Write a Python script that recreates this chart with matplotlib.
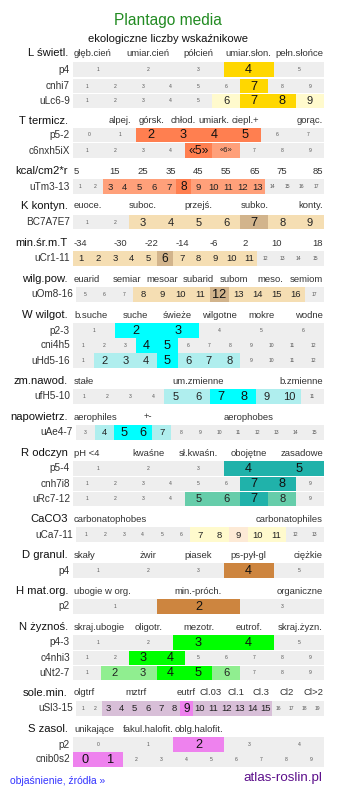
import matplotlib
matplotlib.use("Agg")
import matplotlib.pyplot as plt

plt.rcParams['font.family'] = ['Liberation Sans', 'DejaVu Sans']

# ---------------- data ----------------
title = "Plantago media"
subtitle = "ekologiczne liczby wskaźnikowe"
footer_left = "objaśnienie, źródła »"
footer_right = "atlas-roslin.pl"

# level codes: 0 = none, 1 = light, 2 = strong, 3 = special
L_title = "L świetl."
L_heads = ["głęb.cień", "umiar.cień", "półcień", "umiar.słon.", "pełn.słońce"]
L_p4 = ["1", "2", "3", "4", "5"]
L_p4_lvl = [0, 0, 0, 2, 0]
L_cnhi7 = ["1", "2", "3", "4", "5", "6", "7", "8", "9"]
L_cnhi7_lvl = [0, 0, 0, 0, 0, 0, 2, 0, 0]
L_uLc = ["1", "2", "3", "4", "5", "6", "7", "8", "9"]
L_uLc_lvl = [0, 0, 0, 0, 0, 1, 2, 2, 1]

T_title = "T termicz."
T_heads = ["", "alpej.", "górsk.", "chłod.", "umiark.", "ciepl.+", "", "gorąc."]
T_p52 = ["0", "1", "2", "3", "4", "5", "6", "7"]
T_p52_lvl = [0, 0, 2, 2, 2, 2, 0, 0]
T_c6 = ["1", "2", "3", "4", "«5»", "«6»", "7", "8", "9"]
T_c6_lvl = [0, 0, 0, 0, 2, 1, 0, 0, 0]

KC_title = "kcal/cm2*r"
KC_heads = ["5", "15", "25", "35", "45", "55", "65", "75", "85"]
KC_uTm = [str(i) for i in range(1, 18)]
KC_uTm_lvl = [0, 0, 1, 1, 1, 1, 1, 2, 1, 1, 1, 1, 1, 0, 0, 0, 0]

K_title = "K kontyn."
K_heads = ["euoce.", "", "suboc.", "", "przejś.", "", "subko.", "", "konty."]
K_bc = ["1", "2", "3", "4", "5", "6", "7", "8", "9"]
K_bc_lvl = [0, 0, 1, 1, 1, 1, 2, 1, 1]

MT_title = "min.śr.m.T"
MT_heads = ["-34", "-30", "-22", "-14", "-6", "2", "10", "18"]
MT_uCr = [str(i) for i in range(1, 16)]
MT_uCr_lvl = [1, 1, 1, 1, 1, 2, 1, 1, 1, 1, 1, 0, 0, 0, 0]

WP_title = "wilg.pow."
WP_heads = ["euarid", "semiar", "mesoar", "subarid", "subom", "meso.", "semiom"]
WP_uOm = [str(i) for i in range(5, 18)]
WP_uOm_lvl = [0, 0, 0, 1, 1, 1, 1, 2, 1, 1, 1, 1, 0]

W_title = "W wilgot."
W_heads = ["b.suche", "suche", "świeże", "wilgotne", "mokre", "wodne"]
W_p23 = ["1", "2", "3", "4", "5", "6"]
W_p23_lvl = [0, 2, 2, 0, 0, 0]
W_cni = [str(i) for i in range(1, 13)]
W_cni_lvl = [0, 0, 0, 2, 2, 0, 0, 0, 0, 0, 0, 0]
W_uHd = [str(i) for i in range(1, 13)]
W_uHd_lvl = [0, 1, 1, 1, 2, 1, 1, 1, 0, 0, 0, 0]

ZN_title = "zm.nawod."
ZN_heads = ["stałe", "um.zmienne", "b.zmienne"]
ZN_ufH = [str(i) for i in range(1, 12)]
ZN_ufH_lvl = [0, 0, 0, 0, 1, 1, 2, 2, 1, 1, 0]

NP_title = "napowietrz."
NP_heads = ["aerophiles", "+-", "", "aerophobes", ""]
NP_uAe = [str(i) for i in range(3, 16)]
NP_uAe_lvl = [0, 1, 2, 2, 1, 0, 0, 0, 0, 0, 0, 0, 0]

R_title = "R odczyn"
R_heads = ["pH <4", "kwaśne", "sł.kwaśn.", "obojętne", "zasadowe"]
R_p54 = ["1", "2", "3", "4", "5"]
R_p54_lvl = [0, 0, 0, 2, 2]
R_cnh = ["1", "2", "3", "4", "5", "6", "7", "8", "9"]
R_cnh_lvl = [0, 0, 0, 0, 0, 0, 2, 2, 0]
R_uRc = ["1", "2", "3", "4", "5", "6", "7", "8", "9"]
R_uRc_lvl = [0, 0, 0, 0, 1, 1, 2, 1, 0]

CA_title = "CaCO3"
CA_heads = ["carbonatophobes", "carbonatophiles"]
CA_uCa = [str(i) for i in range(1, 14)]
CA_uCa_lvl = [0, 0, 0, 0, 0, 0, 1, 1, 3, 1, 1, 0, 0]

D_title = "D granul."
D_heads = ["skały", "żwir", "piasek", "ps-pył-gl", "ciężkie"]
D_p4 = ["1", "2", "3", "4", "5"]
D_p4_lvl = [0, 0, 0, 2, 0]

H_title = "H mat.org."
H_heads = ["ubogie w org.", "min.-próch.", "organiczne"]
H_p2 = ["1", "2", "3"]
H_p2_lvl = [0, 2, 0]

N_title = "N żyznoś."
N_heads = ["skraj.ubogie", "oligotr.", "mezotr.", "eutrof.", "skraj.żyzn."]
N_p43 = ["1", "2", "3", "4", "5"]
N_p43_lvl = [0, 0, 2, 2, 0]
N_c4 = ["1", "2", "3", "4", "5", "6", "7", "8", "9"]
N_c4_lvl = [0, 0, 2, 2, 0, 0, 0, 0, 0]
N_uNt = ["1", "2", "3", "4", "5", "6", "7", "8", "9"]
N_uNt_lvl = [0, 1, 1, 2, 2, 1, 0, 0, 0]

SM_title = "sole.min."
SM_heads = ["olgtrf", "", "mztrf", "", "eutrf", "Cl.03", "Cl.1", "Cl.3", "Cl2", "Cl>2"]
SM_uSl = [str(i) for i in range(1, 20)]
SM_uSl_lvl = [0, 0, 1, 1, 1, 1, 1, 1, 2, 1, 1, 1, 1, 1, 1, 0, 0, 0, 0]

S_title = "S zasol."
S_heads = ["unikające", "fakul.halofit.", "oblg.halofit.", "", ""]
S_p2 = ["0", "1", "2", "3", "4"]
S_p2_lvl = [0, 0, 2, 0, 0]
S_cnib = [str(i) for i in range(0, 10)]
S_cnib_lvl = [2, 2, 0, 0, 0, 0, 0, 0, 0, 0]

# ---------------- styles ----------------
GREY = "#eeeeee"
PAL = {
    "L": ("#fffacd", "#ffd700"),
    "T": ("#ffa07a", "#ff7f50"),
    "K": ("#f5deb3", "#d2b48c"),
    "W": ("#afeeee", "#00ffff"),
    "R": ("#66cdaa", "#20b2aa"),
    "C": ("#fffacd", "#ffd700"),
    "D": ("#f5deb3", "#cd853f"),
    "N": ("#90ee90", "#00ff00"),
    "S": ("#d8bfd8", "#ee82ee"),
}
SPECIAL = "#fdead6"

# sections: (title, heads, header y, palette, [(row label, cells, levels, y-center, x0)])
X1 = 324.0
sections = [
    (L_title, L_heads, 53.5, "L", [("p4", L_p4, L_p4_lvl, 69.6, 73),
                                   ("cnhi7", L_cnhi7, L_cnhi7_lvl, 86.0, 73),
                                   ("uLc6-9", L_uLc, L_uLc_lvl, 101.0, 73)]),
    (T_title, T_heads, 120.5, "T", [("p5-2", T_p52, T_p52_lvl, 135.0, 73),
                                    ("c6nxh5iX", T_c6, T_c6_lvl, 150.5, 73)]),
    (KC_title, KC_heads, 171.0, "T", [("uTm3-13", KC_uTm, KC_uTm_lvl, 186.5, 73)]),
    (K_title, K_heads, 206.0, "K", [("BC7A7E7", K_bc, K_bc_lvl, 222.2, 73)]),
    (MT_title, MT_heads, 243.0, "K", [("uCr1-11", MT_uCr, MT_uCr_lvl, 258.4, 73)]),
    (WP_title, WP_heads, 279.5, "K", [("uOm8-16", WP_uOm, WP_uOm_lvl, 294.2, 76)]),
    (W_title, W_heads, 315.5, "W", [("p2-3", W_p23, W_p23_lvl, 330.5, 73),
                                    ("cni4h5", W_cni, W_cni_lvl, 345.5, 73),
                                    ("uHd5-16", W_uHd, W_uHd_lvl, 360.5, 73)]),
    (ZN_title, ZN_heads, 381.0, "W", [("ufH5-10", ZN_ufH, ZN_ufH_lvl, 396.3, 73)]),
    (NP_title, NP_heads, 417.0, "W", [("uAe4-7", NP_uAe, NP_uAe_lvl, 432.2, 76)]),
    (R_title, R_heads, 453.5, "R", [("p5-4", R_p54, R_p54_lvl, 468.3, 73),
                                    ("cnh7i8", R_cnh, R_cnh_lvl, 483.8, 73),
                                    ("uRc7-12", R_uRc, R_uRc_lvl, 498.8, 73)]),
    (CA_title, CA_heads, 519.5, "C", [("uCa7-11", CA_uCa, CA_uCa_lvl, 534.5, 76)]),
    (D_title, D_heads, 555.5, "D", [("p4", D_p4, D_p4_lvl, 570.5, 73)]),
    (H_title, H_heads, 591.0, "D", [("p2", H_p2, H_p2_lvl, 606.3, 73)]),
    (N_title, N_heads, 627.0, "N", [("p4-3", N_p43, N_p43_lvl, 642.2, 73),
                                    ("c4nhi3", N_c4, N_c4_lvl, 657.8, 73),
                                    ("uNt2-7", N_uNt, N_uNt_lvl, 672.8, 73)]),
    (SM_title, SM_heads, 692.5, "S", [("uSl3-15", SM_uSl, SM_uSl_lvl, 708.3, 76)]),
    (S_title, S_heads, 729.5, "S", [("p2", S_p2, S_p2_lvl, 744.7, 73),
                                    ("cnib0s2", S_cnib, S_cnib_lvl, 759.5, 73)]),
]

W_PX, H_PX = 337, 796
fig = plt.figure(figsize=(W_PX / 100, H_PX / 100), dpi=100)
ax = fig.add_axes([0, 0, 1, 1])
ax.set_xlim(0, W_PX)
ax.set_ylim(H_PX, 0)
ax.axis("off")

ax.text(167.5, 20, title, ha="center", va="center", fontsize=11.2, color="#228b22")
ax.text(168, 38.5, subtitle, ha="center", va="center", fontsize=8.1, color="#111111")

ROW_H = 14.6
for sec_title, heads, hy, pal, rows in sections:
    light_c, strong_c = PAL[pal]
    ax.text(68, hy, sec_title, ha="right", va="center", fontsize=8.1, color="#111111")
    n = len(heads)
    hx0 = 73.0
    hw = (X1 - hx0) / n
    for i, lab in enumerate(heads):
        if not lab:
            continue
        if i == 0:
            ax.text(hx0 + 1, hy, lab, ha="left", va="center", fontsize=6.8, color="#333333")
        elif i == n - 1:
            ax.text(X1 - 1, hy, lab, ha="right", va="center", fontsize=6.8, color="#333333")
        else:
            ax.text(hx0 + hw * (i + 0.5), hy, lab, ha="center", va="center",
                    fontsize=6.8, color="#333333")
    for rlabel, cells, lvls, yc, x0 in rows:
        m = len(cells)
        cw = (X1 - x0) / m
        lefts = [x0 + cw * k for k in range(m)]
        colors = []
        for lv in lvls:
            colors.append({0: GREY, 1: light_c, 2: strong_c, 3: SPECIAL}[lv])
        ax.barh([yc] * m, [cw] * m, left=lefts, height=ROW_H, color=colors,
                align="center", linewidth=0)
        ax.text(x0 - 3, yc, rlabel, ha="right", va="center", fontsize=7.2, color="#333333")
        big = 9.2 if m <= 13 else 8.6
        mid = 8.0 if m <= 12 else 6.8
        for k, (c, lv) in enumerate(zip(cells, lvls)):
            cx = lefts[k] + cw / 2
            if lv == 2:
                fs = big if not c.startswith("«") else 8.8
                ax.text(cx, yc + 0.5, c, ha="center", va="center", fontsize=fs, color="#111111")
            elif lv in (1, 3):
                fs = mid if not c.startswith("«") else 5.5
                ax.text(cx, yc + 0.5, c, ha="center", va="center", fontsize=fs, color="#222222")
            else:
                ax.text(cx, yc, c, ha="center", va="center", fontsize=3.6, color="#555555")

ax.text(10, 780.5, footer_left, ha="left", va="center", fontsize=7.5, color="#3333ff")
ax.text(322, 778.5, footer_right, ha="right", va="center", fontsize=9.6, color="#5c0f8b")

fig.savefig("out.png", dpi=100, facecolor="white")
